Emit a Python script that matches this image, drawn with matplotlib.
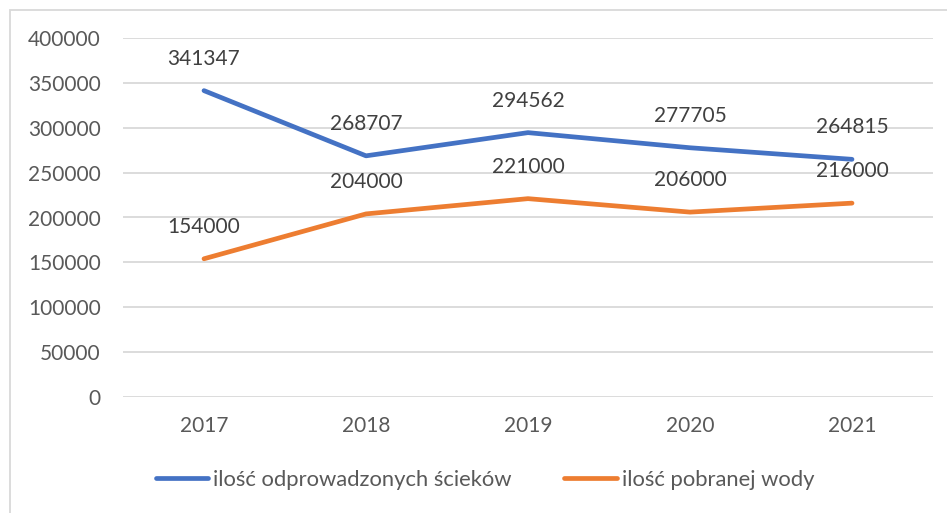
import matplotlib
matplotlib.use("Agg")
import matplotlib.pyplot as plt
from matplotlib.patches import Rectangle

years = ["2017", "2018", "2019", "2020", "2021"]
scieki = [341347, 268707, 294562, 277705, 264815]
woda = [154000, 204000, 221000, 206000, 216000]
series_names = ["ilość odprowadzonych ścieków", "ilość pobranej wody"]
y_ticks = [0, 50000, 100000, 150000, 200000, 250000, 300000, 350000, 400000]

plt.rcParams['font.family'] = ['Lato', 'DejaVu Sans']
FS = 15
LFS = 15.8
tick_color = '#595959'
label_color = '#404040'

fig = plt.figure(figsize=(9.47, 5.13), dpi=100)
ax = fig.add_axes([123/947, 1-397/513, (933-123)/947, (397-38)/513])

x = list(range(len(years)))
l1, = ax.plot(x, scieki, color='#4472C4', lw=3.4, solid_capstyle='round', label=series_names[0])
l2, = ax.plot(x, woda, color='#ED7D31', lw=3.4, solid_capstyle='round', label=series_names[1])

for xs, vals in ((x, scieki), (x, woda)):
    for xi, v in zip(xs, vals):
        ax.annotate(f"{v}", (xi, v), xytext=(0, 23), textcoords='offset points',
                    ha='center', va='center', fontsize=FS, color=label_color)

ax.set_xlim(-0.5, len(years) - 0.5)
ax.set_ylim(0, 400000)
ax.set_yticks(y_ticks)
ax.set_yticklabels([str(t) for t in y_ticks])
ax.set_xticks(x)
ax.set_xticklabels(years)
ax.grid(axis='y', color='#D9D9D9', lw=1.3)
ax.set_axisbelow(True)
for s in ax.spines.values():
    s.set_visible(False)
ax.tick_params(axis='both', length=0, labelsize=FS, colors=tick_color)
ax.tick_params(axis='y', pad=16)
ax.tick_params(axis='x', pad=14)

leg = fig.legend(handles=[l1, l2], loc='center', bbox_to_anchor=(485/947, 1-480/513),
                 ncol=2, frameon=False, fontsize=LFS, handlelength=38/LFS,
                 handletextpad=0.22, columnspacing=38/LFS)
for t in leg.get_texts():
    t.set_color(tick_color)

fig.patches.append(Rectangle((10/947, -0.1), 1.2, 1 - 10/513 + 0.1, transform=fig.transFigure,
                             fill=False, edgecolor='#D9D9D9', lw=1.3, zorder=-1))

fig.savefig("out.png", dpi=100)
